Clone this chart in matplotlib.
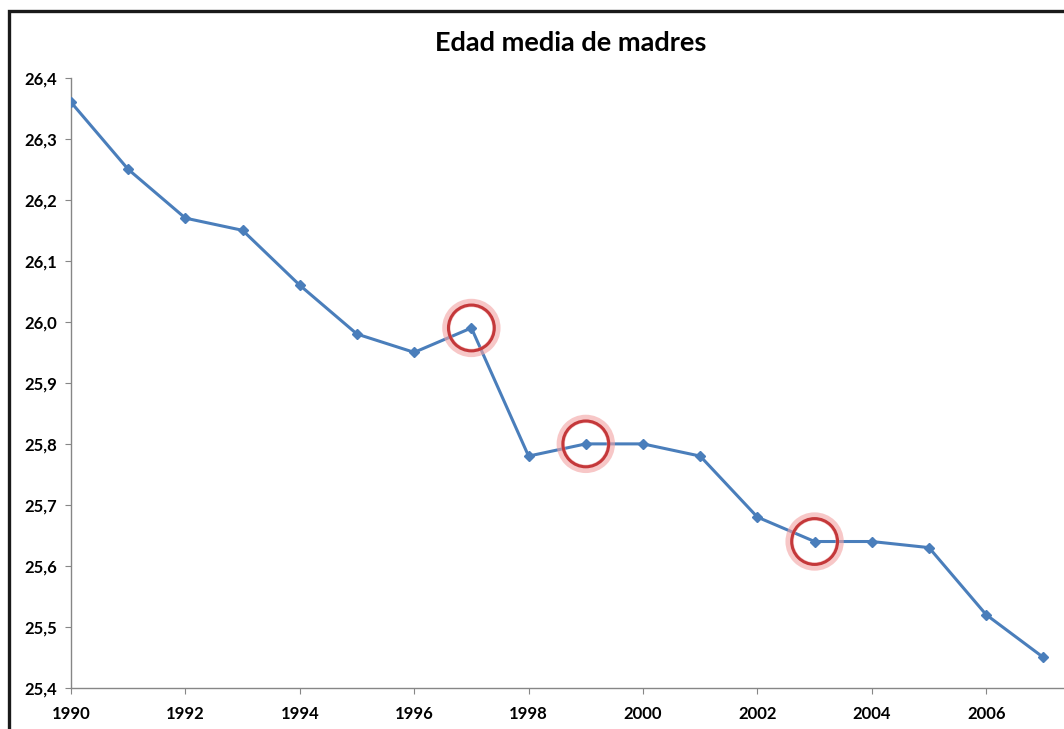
import matplotlib.pyplot as plt
from matplotlib.patches import Rectangle

years = [1990, 1991, 1992, 1993, 1994, 1995, 1996, 1997, 1998,
         1999, 2000, 2001, 2002, 2003, 2004, 2005, 2006, 2007]
edad = [26.36, 26.25, 26.17, 26.15, 26.06, 25.98, 25.95, 25.99, 25.78,
        25.80, 25.80, 25.78, 25.68, 25.64, 25.64, 25.63, 25.52, 25.45]
highlight_years = [1997, 1999, 2003]

xticks = [1990, 1992, 1994, 1996, 1998, 2000, 2002, 2004, 2006]
yticks = [25.4, 25.5, 25.6, 25.7, 25.8, 25.9, 26.0, 26.1, 26.2, 26.3, 26.4]
ytick_labels = ['25,4', '25,5', '25,6', '25,7', '25,8', '25,9',
                '26,0', '26,1', '26,2', '26,3', '26,4']

plt.rcParams['font.family'] = ['Lato', 'DejaVu Sans']

fig = plt.figure(figsize=(10.64, 7.29), dpi=100)
ax = fig.add_axes([0.0667, 0.0563, 0.9333, 0.837])

# outer border (cropped on the right and bottom)
fig.patches.append(Rectangle((9 / 1064, -0.1), 1.2, 1 - 11 / 729 + 0.1,
                             transform=fig.transFigure, fill=False,
                             edgecolor='#1a1a1a', linewidth=2.4))

ax.plot(years, edad, color='#4a7ebb', linewidth=2.2, marker='D',
        markersize=5.5, zorder=3)

# red circles
hx = [y for y in highlight_years]
hy = [edad[years.index(y)] for y in highlight_years]
ax.scatter(hx, hy, s=36 ** 2, facecolors='none', edgecolors='#f3a3a3',
           linewidths=6, alpha=0.6, zorder=4)
ax.scatter(hx, hy, s=33 ** 2, facecolors='none', edgecolors='#c4383a',
           linewidths=2.2, zorder=5)

ax.set_xlim(1990, 2007.36)
ax.set_ylim(25.4, 26.4)
ax.set_xticks(xticks)
ax.set_xticklabels([str(x) for x in xticks])
ax.set_yticks(yticks)
ax.set_yticklabels(ytick_labels)

for s in ['top', 'right']:
    ax.spines[s].set_visible(False)
for s in ['left', 'bottom']:
    ax.spines[s].set_color('#868686')
    ax.spines[s].set_linewidth(1)

ax.tick_params(axis='both', colors='#868686', length=4, labelcolor='black',
               labelsize=12)
ax.tick_params(axis='x', pad=9)
ax.tick_params(axis='y', pad=6)
for lab in ax.get_xticklabels() + ax.get_yticklabels():
    lab.set_fontweight('bold')

fig.text(571 / 1064, 1 - 43 / 729, 'Edad media de madres', ha='center',
         va='center', fontsize=19.5, fontweight='bold')

fig.savefig('out.png', dpi=100)
